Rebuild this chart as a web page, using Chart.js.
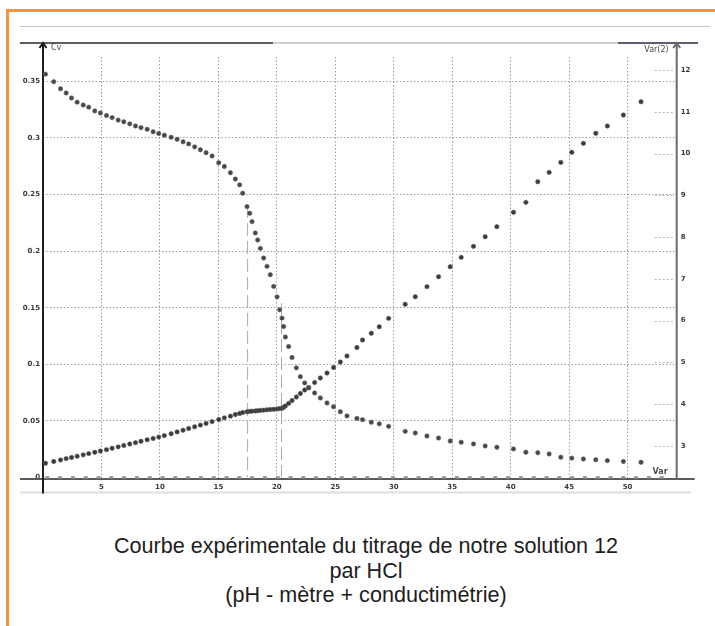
<!DOCTYPE html>
<html lang="fr">
<head>
<meta charset="utf-8">
<title>Titrage de la solution 12 par HCl</title>
<script src="https://cdn.jsdelivr.net/npm/chart.js@4.4.1/dist/chart.umd.min.js"></script>
<style>
    html, body { margin: 0; padding: 0; background: #fff; }
    body { width: 715px; height: 626px; position: relative; overflow: hidden; }
    #Chart { position: absolute; left: 0; top: 0; }
    .cadre { position: absolute; left: 6px; top: 9px; width: 720px; height: 630px;
              border-top: 3px solid #f7943b; border-left: 3px solid #f7943b; }
    .regle { position: absolute; height: 2px; }
    .legende { position: absolute; left: 0; top: 534px; width: 732px; text-align: center;
               font-family: "Liberation Sans", Arial, sans-serif; font-size: 21.6px;
               line-height: 24.5px; color: #1d1d1d; }
</style>
</head>
<body>
<div class="cadre"></div>
<div class="regle" style="left:20px; top:26px; width:690px; height:1px; background:#c4c4c4;"></div>
<div class="regle" style="left:20px; top:42px; width:253px; background:#5e5e5e;"></div>
<div class="regle" style="left:273px; top:42px; width:345px; background:#d2d2d2;"></div>
<div class="regle" style="left:618px; top:42px; width:80px; background:#5a6070;"></div>
<canvas id="Chart" width="715" height="500"></canvas>
<div class="legende">Courbe expérimentale du titrage de notre solution 12<br>par HCl<br>(pH - mètre + conductimétrie)</div>

<script>
// volume de HCl versé (mL)
const volumes = [
    0.21, 0.92, 1.50, 1.98, 2.44, 2.92, 3.44, 3.91, 4.43, 4.91,
    5.43, 5.91, 6.43, 6.91, 7.42, 7.91, 8.38, 8.91, 9.42, 9.90,
    10.38, 10.96, 11.47, 11.98, 12.46, 12.97, 13.46, 13.95, 14.46, 15.03,
    15.51, 16.03, 16.45, 16.82, 17.08, 17.45, 17.68, 17.88, 18.16, 18.36,
    18.59, 18.87, 19.16, 19.44, 19.73, 20.02, 20.24, 20.44, 20.58, 20.73,
    21.01, 21.30, 21.67, 22.01, 22.38, 22.72, 23.23, 23.72, 24.29, 24.85,
    25.43, 26.00, 26.85, 27.33, 28.08, 28.76, 29.56, 30.98, 31.84, 32.84,
    33.83, 34.83, 35.77, 36.82, 37.82, 38.82, 40.24, 41.30, 42.32, 43.29,
    44.29, 45.23, 46.22, 47.28, 48.27, 49.64, 51.15
];

// pH (axe de droite, Var(2))
const ph = [
    11.90, 11.72, 11.55, 11.45, 11.33, 11.23, 11.16, 11.11, 11.02, 10.97,
    10.91, 10.86, 10.80, 10.76, 10.71, 10.66, 10.62, 10.58, 10.52, 10.48,
    10.44, 10.39, 10.34, 10.28, 10.23, 10.16, 10.09, 10.02, 9.94, 9.78,
    9.69, 9.54, 9.39, 9.25, 9.05, 8.73, 8.57, 8.37, 8.10, 7.93,
    7.73, 7.50, 7.30, 7.10, 6.82, 6.57, 6.26, 6.06, 5.86, 5.61,
    5.38, 5.12, 4.87, 4.66, 4.51, 4.39, 4.27, 4.15, 4.03, 3.94,
    3.82, 3.72, 3.66, 3.63, 3.57, 3.53, 3.47, 3.35, 3.31, 3.24,
    3.19, 3.12, 3.09, 3.05, 3.00, 2.97, 2.93, 2.85, 2.84, 2.81,
    2.73, 2.71, 2.69, 2.67, 2.65, 2.63, 2.61
];

// conductivité Cv (axe de gauche)
const conductivite = [
    0.0126, 0.0142, 0.0155, 0.0167, 0.0177, 0.0188, 0.0200, 0.0211, 0.0223, 0.0234,
    0.0246, 0.0259, 0.0271, 0.0283, 0.0296, 0.0308, 0.0320, 0.0333, 0.0345, 0.0357,
    0.0370, 0.0387, 0.0403, 0.0418, 0.0433, 0.0448, 0.0463, 0.0478, 0.0494, 0.0512,
    0.0527, 0.0542, 0.0556, 0.0566, 0.0574, 0.0581, 0.0584, 0.0586, 0.0588, 0.0590,
    0.0593, 0.0595, 0.0598, 0.0601, 0.0603, 0.0606, 0.0609, 0.0611, 0.0620, 0.0632,
    0.0655, 0.0680, 0.0711, 0.0742, 0.0773, 0.0795, 0.0839, 0.0879, 0.0923, 0.0972,
    0.1020, 0.1073, 0.1148, 0.1215, 0.1274, 0.1332, 0.1406, 0.1530, 0.1597, 0.1686,
    0.1774, 0.1862, 0.1945, 0.2042, 0.2127, 0.2216, 0.2343, 0.2431, 0.2613, 0.2696,
    0.2784, 0.2873, 0.2952, 0.3041, 0.3105, 0.3202, 0.3320
];

// graduations
const volumeTicks = [5, 10, 15, 20, 25, 30, 35, 40, 45, 50];
const cvTicks = [0, 0.05, 0.1, 0.15, 0.2, 0.25, 0.3, 0.35];
const phTicks = [3, 4, 5, 6, 7, 8, 9, 10, 11, 12];

// traits verticaux en tirets (repères d'équivalence) et ligne du zéro
const repereVolumes = [17.5, 20.4];
const repereHaut = [8.77, 6.42];
const zeroVolumes = [0.2, 53.5];

const xMax = 54.2;
const cvMax = 0.3715;
const phMin = 2.246;
const phMax = 12.31;

function toPoints(xs, ys) {
    var pts = [];
    for (var i = 0; i < xs.length; i++) {
        pts.push({ x: xs[i], y: ys[i] });
    }
    return pts;
}

function segment(ctx, x1, y1, x2, y2) {
    ctx.beginPath();
    ctx.moveTo(x1, y1);
    ctx.lineTo(x2, y2);
    ctx.stroke();
}

function fleche(ctx, x, y) {
    ctx.beginPath();
    ctx.moveTo(x - 3.5, y + 5);
    ctx.lineTo(x, y);
    ctx.lineTo(x + 3.5, y + 5);
    ctx.stroke();
}

// axes façon capture d'écran du logiciel
const axesScan = {
    id: 'axesScan',
    beforeDatasetsDraw(chart) {
        const ctx = chart.ctx;
        const a = chart.chartArea;
        ctx.save();
        ctx.lineWidth = 2;
        ctx.strokeStyle = '#dedede';
        segment(ctx, 20, a.bottom + 15, a.right + 14, a.bottom + 15);
        ctx.strokeStyle = '#5a5a5a';
        segment(ctx, 20, a.bottom + 1.5, a.right + 18, a.bottom + 1.5);
        ctx.strokeStyle = '#1e1e1e';
        segment(ctx, a.left, a.top - 14, a.left, a.bottom + 16);
        fleche(ctx, a.left, a.top - 14);
        ctx.strokeStyle = '#6b6b6b';
        segment(ctx, a.right, a.top - 14, a.right, a.bottom + 2);
        fleche(ctx, a.right, a.top - 14);

        // petits traits pointillés devant les graduations de droite
        const y2 = chart.scales.y2;
        ctx.lineWidth = 1;
        ctx.setLineDash([2, 2]);
        ctx.strokeStyle = '#b4b4b4';
        y2.ticks.forEach(function (t) {
            var y = Math.round(y2.getPixelForValue(t.value)) + 0.5;
            segment(ctx, a.right - 22, y, a.right - 4, y);
        });
        ctx.restore();
    },
    afterDraw(chart) {
        const ctx = chart.ctx;
        const a = chart.chartArea;
        ctx.save();
        ctx.fillStyle = '#4a4a4a';
        ctx.font = '8px "DejaVu Sans"';
        ctx.textBaseline = 'middle';
        ctx.textAlign = 'left';
        ctx.fillText('Cv', a.left + 8, a.top - 9);
        ctx.textAlign = 'right';
        ctx.fillText('Var(2)', a.right - 8, a.top - 7);
        ctx.font = 'bold 8px "DejaVu Sans"';
        ctx.fillText('Var', a.right - 9, a.bottom - 6);
        ctx.restore();
    }
};

const tickFont = { family: 'DejaVu Sans', size: 7, weight: 'bold' };
const gridColor = '#9c9c9c';

const config = {
    type: 'scatter',
    data: {
        datasets: [{
            label: 'pH',
            data: toPoints(volumes, ph),
            yAxisID: 'y2',
            pointStyle: 'circle',
            pointRadius: 2.2,
            backgroundColor: '#474747',
            borderColor: '#666',
            borderWidth: 0.6
        }, {
            label: 'Cv',
            data: toPoints(volumes, conductivite),
            yAxisID: 'y',
            pointStyle: 'circle',
            pointRadius: 2.2,
            backgroundColor: '#3a3a3a',
            borderColor: '#5e5e5e',
            borderWidth: 0.6
        }, {
            type: 'line',
            label: 'zéro',
            data: toPoints(zeroVolumes, [0, 0]),
            yAxisID: 'y',
            borderColor: '#8e8e8e',
            borderWidth: 2.5,
            borderDash: [4, 8.8],
            pointRadius: 0,
            clip: false
        }, {
            type: 'line',
            label: 'repère 1',
            data: toPoints([repereVolumes[0], repereVolumes[0]], [repereHaut[0], phMin]),
            yAxisID: 'y2',
            borderColor: '#a8a8a8',
            borderWidth: 1,
            borderDash: [13, 5],
            pointRadius: 0
        }, {
            type: 'line',
            label: 'repère 2',
            data: toPoints([repereVolumes[1], repereVolumes[1]], [repereHaut[1], phMin]),
            yAxisID: 'y2',
            borderColor: '#a8a8a8',
            borderWidth: 1,
            borderDash: [13, 5],
            pointRadius: 0
        }]
    },
    options: {
        responsive: false,
        animation: false,
        layout: { padding: { top: 57, left: 0, right: 0, bottom: 0 } },
        plugins: {
            legend: { display: false },
            tooltip: { enabled: false }
        },
        scales: {
            x: {
                type: 'linear',
                position: 'bottom',
                min: 0,
                max: xMax,
                afterBuildTicks: function (axis) { axis.ticks = volumeTicks.map(v => ({ value: v })); },
                afterFit: function (axis) { axis.height = 22.5; },
                grid: { color: gridColor, lineWidth: 1, drawTicks: false },
                border: { display: false, dash: [1.5, 2] },
                ticks: { font: tickFont, color: '#3a3a3a', padding: 5, maxRotation: 0,
                         callback: v => String(v) }
            },
            y: {
                type: 'linear',
                position: 'left',
                min: 0,
                max: cvMax,
                afterBuildTicks: function (axis) { axis.ticks = cvTicks.map(v => ({ value: v })); },
                afterFit: function (axis) { axis.width = 43; },
                grid: {
                    color: ctx => (ctx.tick && ctx.tick.value === 0) ? 'rgba(0,0,0,0)' : gridColor,
                    lineWidth: 1,
                    drawTicks: false
                },
                border: { display: false, dash: [1.5, 2] },
                ticks: { font: tickFont, color: '#3a3a3a', padding: 3, callback: v => String(v) }
            },
            y2: {
                type: 'linear',
                position: 'right',
                min: phMin,
                max: phMax,
                afterBuildTicks: function (axis) { axis.ticks = phTicks.map(v => ({ value: v })); },
                afterFit: function (axis) { axis.width = 38.3; },
                grid: { drawOnChartArea: false, drawTicks: false },
                border: { display: false },
                ticks: { font: tickFont, color: '#3a3a3a', padding: 4, callback: v => String(v) }
            }
        }
    },
    plugins: [axesScan]
};

var canvas = document.getElementById('Chart');
var myChart = new Chart(canvas, config);
</script>
</body>
</html>
